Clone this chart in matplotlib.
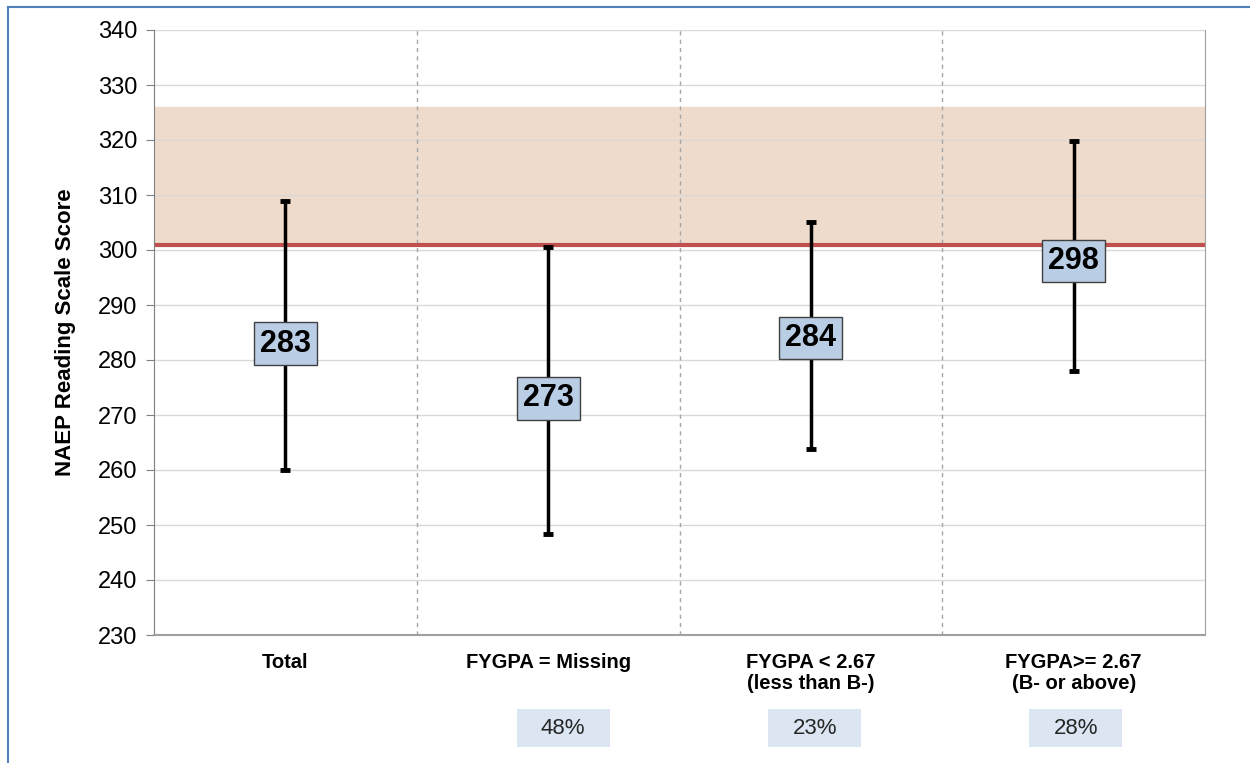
import matplotlib
matplotlib.use("Agg")
import matplotlib.pyplot as plt
from matplotlib.patches import Rectangle

categories = ["Total", "FYGPA = Missing", "FYGPA < 2.67\n(less than B-)", "FYGPA>= 2.67\n(B- or above)"]
means = [283, 273, 284, 298]
upper = [308.9, 300.5, 305.1, 319.8]
lower = [260.0, 248.4, 263.9, 278.0]
percents = ["", "48%", "23%", "28%"]
band_low, band_high = 301, 326
yticks = list(range(230, 341, 10))

# layout: horizontal offset (in category units) of percent boxes
pct_offsets = [0, 0.057, 0.015, 0.008]

plt.rcParams['font.family'] = ['Liberation Sans', 'DejaVu Sans']

fig = plt.figure(figsize=(12.5, 7.63), dpi=100)
ax = fig.add_axes([154/1250, 1-635/763, (1205-154)/1250, (635-30)/763])

x = list(range(len(categories)))
ax.set_xlim(-0.5, len(categories)-0.5)
ax.set_ylim(230, 340)

ax.axhspan(band_low, band_high, color='#efdbcc', zorder=0)
ax.axhline(band_low, color='#c0504d', lw=3, zorder=1)

for yv in yticks:
    ax.axhline(yv, color='#d9d9d9', lw=1, zorder=0.5)
for s in [0.5, 1.5, 2.5]:
    ax.axvline(s, color='#a6a6a6', lw=1, ls=(0, (3, 3)), zorder=0.6)

for xi, m, lo, hi in zip(x, means, lower, upper):
    ax.plot([xi, xi], [lo, hi], color='black', lw=2.5, zorder=3)
    ax.plot([xi, xi], [hi, lo], ls='none', marker='_', ms=7, mew=3.5, color='black', zorder=3)
    ax.text(xi, m, str(m), ha='center', va='center', fontsize=22, fontweight='bold', zorder=5,
            bbox=dict(boxstyle='square,pad=0.2', fc='#b9cde5', ec='#404040', lw=1))

ax.set_yticks(yticks)
ax.set_yticklabels([str(v) for v in yticks], fontsize=17)
ax.set_xticks(x)
ax.set_xticklabels(categories, fontsize=14.5, fontweight='bold', va='top', linespacing=1.15)
ax.tick_params(axis='x', length=0, pad=13)
ax.tick_params(axis='y', length=6, color='#808080', direction='out', pad=6)
ax.spines['top'].set_visible(False)
ax.spines['left'].set_color('#808080')
ax.spines['bottom'].set_color('#a0a0a0')
ax.spines['right'].set_color('#a0a0a0')
ax.spines['bottom'].set_linewidth(1.5)

ax.set_ylabel("NAEP Reading Scale Score", fontsize=16, fontweight='bold', labelpad=16)

# percent boxes
for xi, p, off in zip(x, percents, pct_offsets):
    if p:
        xc = ax.transData.transform((xi + off, 0))[0] / 1250
        w, h = 93/1250, 38/763
        yc = 1 - 728/763
        fig.patches.append(Rectangle((xc - w/2, yc - h/2), w, h, transform=fig.transFigure,
                                     fc='#dce6f2', ec='none'))
        fig.text(xc, yc, p, ha='center', va='center', fontsize=16, color='#262626')

# figure border
fig.add_artist(plt.Line2D([8/1250, 8/1250], [0, 1-7/763], transform=fig.transFigure, color='#4f81bd', lw=1.5))
fig.add_artist(plt.Line2D([8/1250, 1], [1-7/763, 1-7/763], transform=fig.transFigure, color='#4f81bd', lw=1.5))

fig.savefig("out.png", dpi=100)
